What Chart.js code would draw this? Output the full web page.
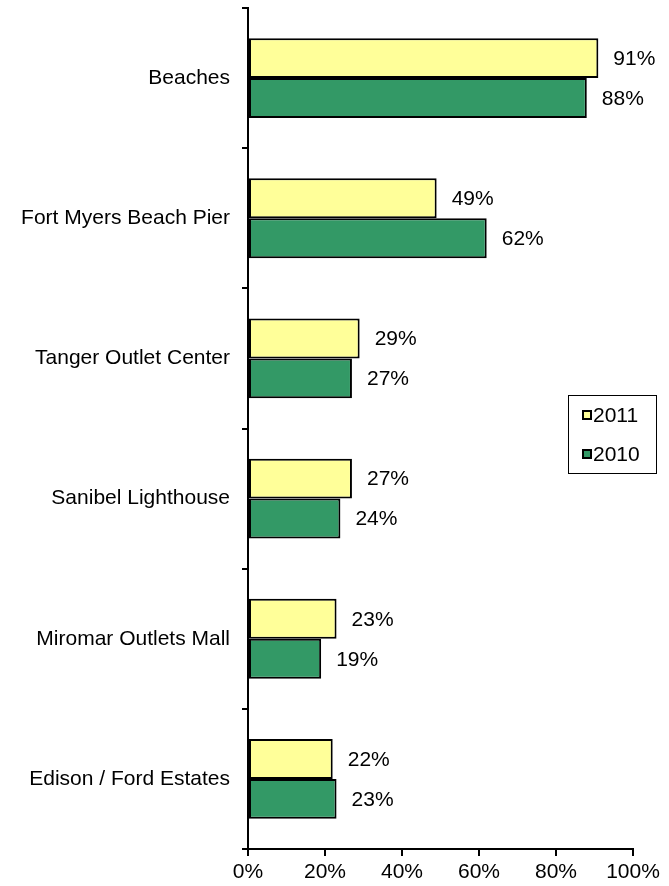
<!DOCTYPE html>
<html>
<head>
<meta charset="utf-8">
<script src="https://cdn.jsdelivr.net/npm/chart.js@4"></script>
<style>
  html, body { margin: 0; padding: 0; background: #fff; }
  #wrap { width: 669px; height: 886px; position: relative; }
</style>
</head>
<body>
<div id="wrap"><canvas id="myChart"></canvas></div>
<script>
// dados do gráfico
const categorias = ['Beaches', 'Fort Myers Beach Pier', 'Tanger Outlet Center', 'Sanibel Lighthouse', 'Miromar Outlets Mall', 'Edison / Ford Estates'];
const valores2011 = [91, 49, 29, 27, 23, 22];
const valores2010 = [88, 62, 27, 24, 19, 23];
const ticksX = [0, 20, 40, 60, 80, 100];

const fonte = { family: '"Liberation Sans", Arial, sans-serif', size: 21 };

// rótulos com o valor no fim de cada barra
const rotulosPlugin = {
    id: 'rotulos',
    afterDatasetsDraw(chart) {
        const ctx = chart.ctx;
        ctx.save();
        ctx.font = fonte.size + 'px ' + fonte.family;
        ctx.fillStyle = '#000';
        ctx.textBaseline = 'middle';
        ctx.textAlign = 'left';
        chart.data.datasets.forEach((ds, i) => {
            chart.getDatasetMeta(i).data.forEach((bar, j) => {
                ctx.fillText(ds.data[j] + '%', bar.x + 15, bar.y + 1);
            });
        });
        ctx.restore();
    }
};

// legenda desenhada à mão, com caixa
const legendaPlugin = {
    id: 'legendaCaixa',
    afterDraw(chart) {
        const ctx = chart.ctx;
        ctx.save();
        ctx.strokeStyle = '#000';
        ctx.lineWidth = 1;
        ctx.strokeRect(568.5, 395.5, 88, 78);
        ctx.font = fonte.size + 'px ' + fonte.family;
        ctx.textBaseline = 'middle';
        chart.data.datasets.forEach((ds, i) => {
            const y = 415 + i * 39;
            ctx.fillStyle = ds.backgroundColor;
            ctx.fillRect(583, y - 4, 8, 8);
            ctx.lineWidth = 2;
            ctx.strokeRect(583, y - 4, 8, 8);
            ctx.fillStyle = '#000';
            ctx.fillText(ds.label, 593, y + 1);
        });
        ctx.restore();
    }
};

const ctx = document.getElementById('myChart');
const myChart = new Chart(ctx, {
    type: 'bar',
    data: {
        labels: categorias,
        datasets: [{
            label: '2011',
            data: valores2011,
            backgroundColor: '#FFFF99',
            borderColor: '#000',
            borderWidth: 2,
            borderSkipped: false,
            categoryPercentage: 0.57,
            barPercentage: 1.0
        }, {
            label: '2010',
            data: valores2010,
            backgroundColor: '#339966',
            borderColor: '#000',
            borderWidth: 2,
            borderSkipped: false,
            categoryPercentage: 0.57,
            barPercentage: 1.0
        }]
    },
    options: {
        indexAxis: 'y',
        responsive: true,
        maintainAspectRatio: false,
        animation: false,
        layout: { padding: { top: 8, right: 36, left: 0, bottom: 0 } },
        plugins: {
            legend: { display: false },
            tooltip: { enabled: false }
        },
        scales: {
            x: {
                min: 0,
                max: 100,
                afterBuildTicks: (scale) => { scale.ticks = ticksX.map(v => ({ value: v })); },
                ticks: {
                    color: '#000',
                    font: fonte,
                    padding: 4,
                    callback: (v) => v + '%'
                },
                grid: { drawOnChartArea: false, tickLength: 7, color: '#000', lineWidth: 2 },
                border: { display: true, color: '#000', width: 2 },
                afterFit: (scale) => { scale.height = 37; scale.paddingLeft = 0; scale.paddingRight = 0; }
            },
            y: {
                ticks: { color: '#000', font: fonte, padding: 12 },
                grid: { offset: true, drawOnChartArea: false, tickLength: 6, color: '#000', lineWidth: 2 },
                border: { display: true, color: '#000', width: 2 },
                afterFit: (scale) => { scale.width = 248; scale.paddingTop = 0; scale.paddingBottom = 0; }
            }
        }
    },
    plugins: [rotulosPlugin, legendaPlugin]
});
</script>
</body>
</html>
